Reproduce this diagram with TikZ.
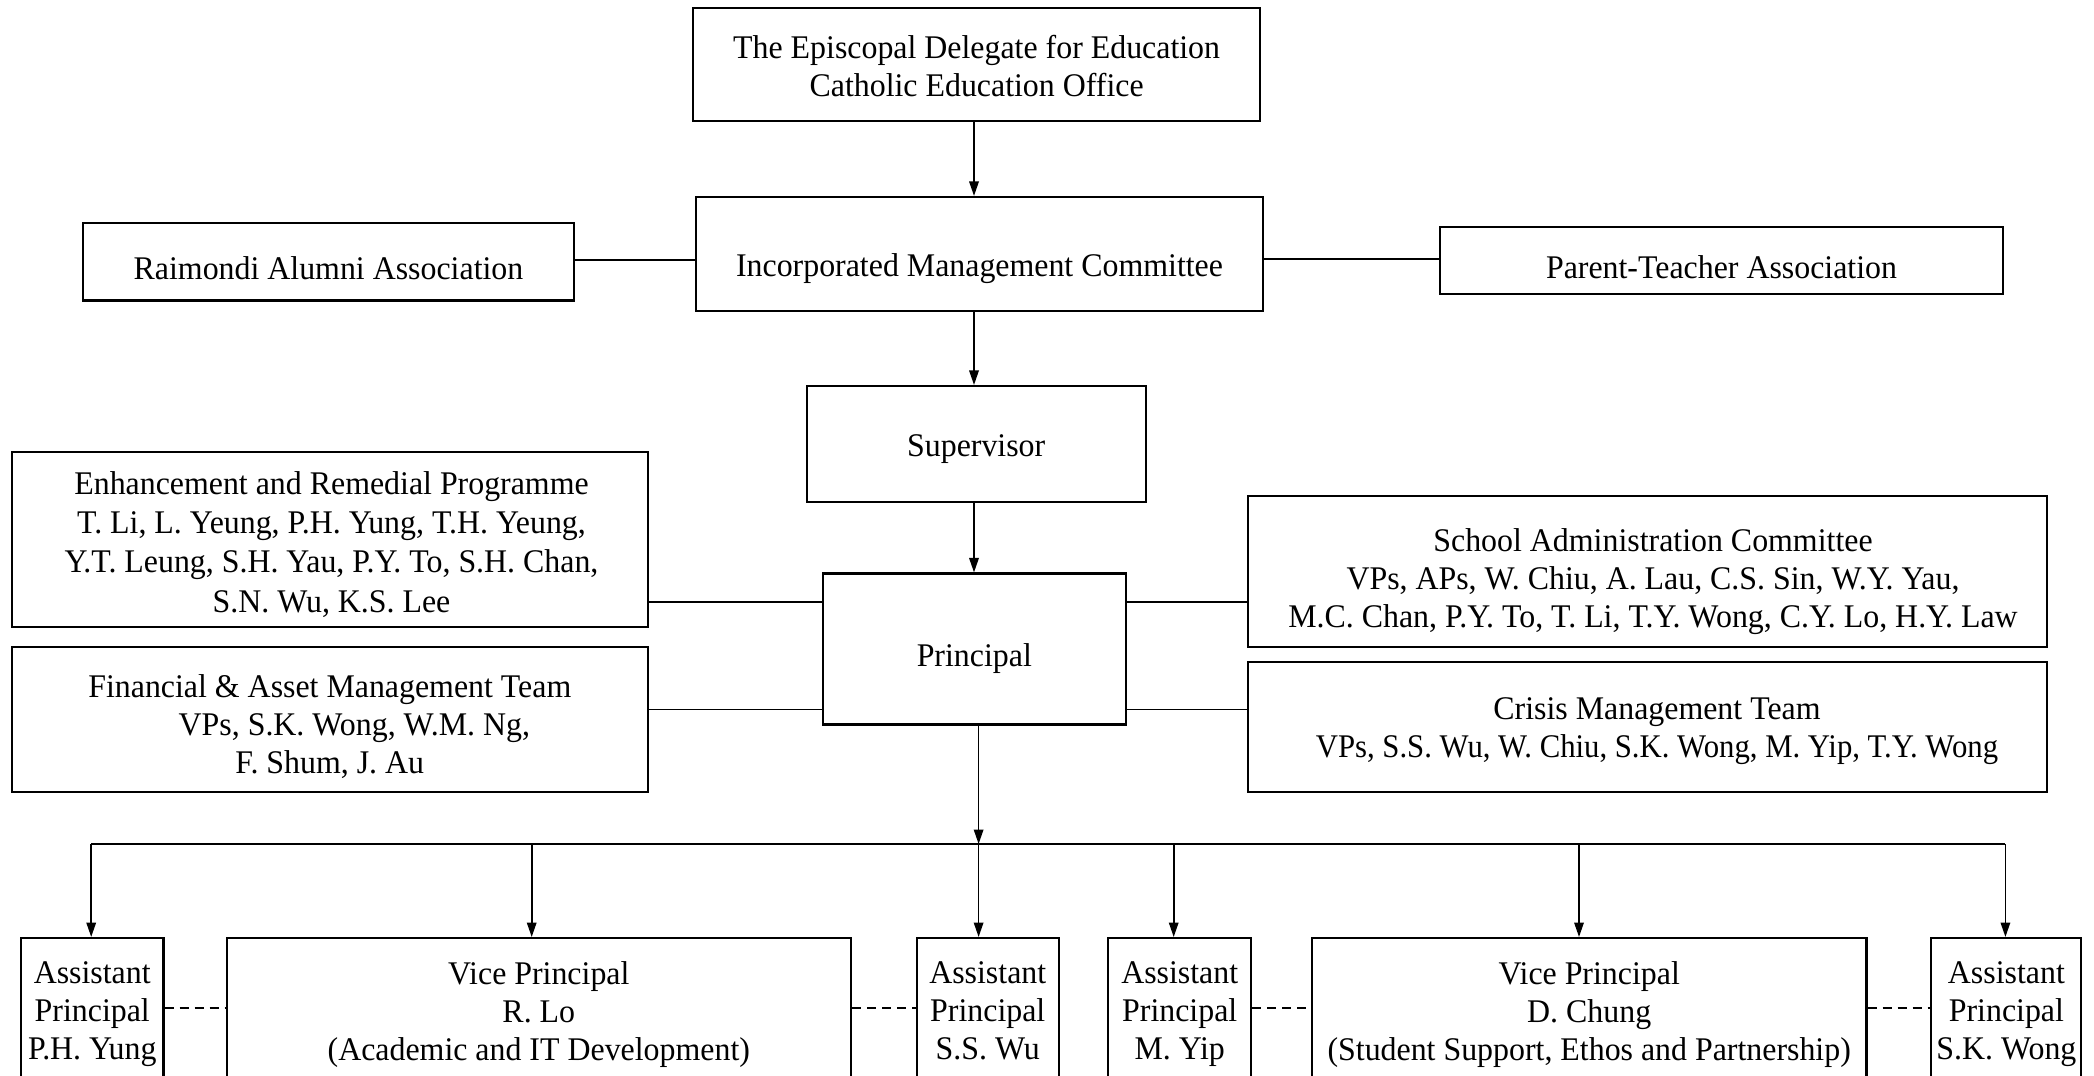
\documentclass[tikz,border=0pt]{standalone}
\usepackage{fontspec}
\setmainfont{Liberation Serif}[FakeStretch=0.965]
\usetikzlibrary{arrows.meta}
\begin{document}
\begin{tikzpicture}[x=0.1mm,y=-0.1mm,
  box/.style={draw, line width=0.6pt, inner sep=0pt},
  txt/.style={inner sep=0pt, align=center,
    font=\fontsize{9.4}{10.85}\selectfont,
    execute at begin node=\strut, execute at end node=\strut},
  conn/.style={line width=0.5pt},
  arr/.style={conn, -{Triangle[length=1.45mm,width=0.95mm]}},
  dsh/.style={line width=0.55pt, dash pattern=on 0.9mm off 0.6mm}]
\useasboundingbox (0,0) rectangle (2094,1076);
\clip (0,0) rectangle (2094,1076);
\fill[white] (0,0) rectangle (2094,1076);

% upper boxes
\node[box, minimum width=56.7mm, minimum height=11.3mm] (epi) at (976.6,64.8) {};
\node[txt] (epit) at (976.6,71.5)
  {The Episcopal Delegate for Education\\Catholic Education Office};
\node[box, minimum width=56.7mm, minimum height=11.4mm] (imc) at (979.5,254) {};
\node[txt] (imct) at (979.5,268.5) {Incorporated Management Committee};
\node[box, minimum width=49.15mm, minimum height=7.75mm] (ram) at (328.5,261.8) {};
\node[txt] (ramt) at (328.5,271.5) {Raimondi Alumni Association};
\node[box, minimum width=56.25mm, minimum height=6.73mm] (pta) at (1721.5,260.3) {};
\node[txt] (ptat) at (1721.5,271) {Parent-Teacher Association};
\node[box, minimum width=33.9mm, minimum height=11.6mm] (sup) at (976.2,444) {};
\node[txt] (supt) at (976.2,449) {Supervisor};
\node[box, minimum width=30.25mm, minimum height=15.1mm] (pri) at (974.3,649) {};
\node[txt] (prit) at (974.3,659) {Principal};
\node[box, minimum width=63.55mm, minimum height=17.5mm] (enh) at (329.8,539.8) {};
\node[txt, font=\fontsize{9.4}{11.2}\selectfont] (enht) at (331.5,547.5)
  {Enhancement and Remedial Programme\\T. Li, L. Yeung, P.H. Yung, T.H. Yeung,\\Y.T. Leung, S.H. Yau, P.Y. To, S.H. Chan,\\S.N. Wu, K.S. Lee};
\node[box, minimum width=63.55mm, minimum height=14.44mm] (fin) at (329.8,719.5) {};
\node[txt] (fint) at (329.8,730)
  {Financial \& Asset Management Team\\\hspace*{14pt}VPs, S.K. Wong, W.M. Ng,\\F. Shum, J. Au};
\node[box, minimum width=79.9mm, minimum height=15.07mm] (sac) at (1647.4,571.3) {};
\node[txt] (sact) at (1653,583.5)
  {School Administration Committee\\VPs, APs, W. Chiu, A. Lau, C.S. Sin, W.Y. Yau,\\M.C. Chan, P.Y. To, T. Li, T.Y. Wong, C.Y. Lo, H.Y. Law};
\node[box, minimum width=79.9mm, minimum height=13mm] (cmt) at (1647.4,726.7) {};
\node[txt] (cmtt) at (1657,733.5)
  {Crisis Management Team\\\scalebox{0.964}[1]{VPs, S.S. Wu, W. Chiu, S.K. Wong, M. Yip, T.Y. Wong}};

% bottom row
\node[box, anchor=north, minimum width=14.25mm, minimum height=16mm] (ap1) at (92.25,937) {};
\node[txt] (ap1t) at (92.25,1016.5) {Assistant\\Principal\\P.H. Yung};
\node[box, anchor=north, minimum width=62.44mm, minimum height=16mm] (vp1) at (538.8,937) {};
\node[txt] (vp1t) at (538.8,1016.5) {Vice Principal\\R. Lo\\(Academic and IT Development)};
\node[box, anchor=north, minimum width=14.17mm, minimum height=16mm] (ap2) at (987.75,937) {};
\node[txt] (ap2t) at (987.75,1016.5) {Assistant\\Principal\\S.S. Wu};
\node[box, anchor=north, minimum width=14.31mm, minimum height=16mm] (ap3) at (1179.7,937) {};
\node[txt] (ap3t) at (1179.7,1016.5) {Assistant\\Principal\\M. Yip};
\node[box, anchor=north, minimum width=55.46mm, minimum height=16mm] (vp2) at (1589.2,937) {};
\node[txt] (vp2t) at (1589.2,1016.5) {Vice Principal\\D. Chung\\(Student Support, Ethos and Partnership)};
\node[box, anchor=north, minimum width=15.0mm, minimum height=16mm] (ap4) at (2006.4,937) {};
\node[txt] (ap4t) at (2006.4,1016.5) {Assistant\\Principal\\S.K. Wong};

% helper coordinates
\coordinate (ax) at (974,0);
\coordinate (ly1) at (0,260);
\coordinate (ly2) at (0,258.7);
\coordinate (ly3) at (0,602.3);
\coordinate (ly4) at (0,709.5);
\coordinate (dy) at (0,1007.7);
\coordinate (b1) at (91.2,844);
\coordinate (b2) at (531.7,844);
\coordinate (b3) at (978.6,844);
\coordinate (b4) at (1173.7,844);
\coordinate (b5) at (1579,844);
\coordinate (b6) at (2005.4,844);

% vertical chain
\draw[arr] (epi.south -| ax) -- (imc.north -| ax);
\draw[arr] (imc.south -| ax) -- (sup.north -| ax);
\draw[arr] (sup.south -| ax) -- (pri.north -| ax);

% side links
\draw[conn] (ram.east |- ly1) -- (imc.west |- ly1);
\draw[conn] (imc.east |- ly2) -- (pta.west |- ly2);
\draw[conn] (enh.east |- ly3) -- (pri.west |- ly3);
\draw[conn] (fin.east |- ly4) -- (pri.west |- ly4);
\draw[conn] (pri.east |- ly3) -- (sac.west |- ly3);
\draw[conn] (pri.east |- ly4) -- (cmt.west |- ly4);

% bus
\draw[arr] (pri.south -| b3) -- (b3);
\draw[conn] (b1) -- (b6);
\draw[arr] (b1) -- (ap1.north -| b1);
\draw[arr] (b2) -- (vp1.north -| b2);
\draw[arr] (b3) -- (ap2.north -| b3);
\draw[arr] (b4) -- (ap3.north -| b4);
\draw[arr] (b5) -- (vp2.north -| b5);
\draw[arr] (b6) -- (ap4.north -| b6);

% dashed links
\draw[dsh] (ap1.east |- dy) -- (vp1.west |- dy);
\draw[dsh] (vp1.east |- dy) -- (ap2.west |- dy);
\draw[dsh] (ap3.east |- dy) -- (vp2.west |- dy);
\draw[dsh] (vp2.east |- dy) -- (ap4.west |- dy);
\end{tikzpicture}
\end{document}
